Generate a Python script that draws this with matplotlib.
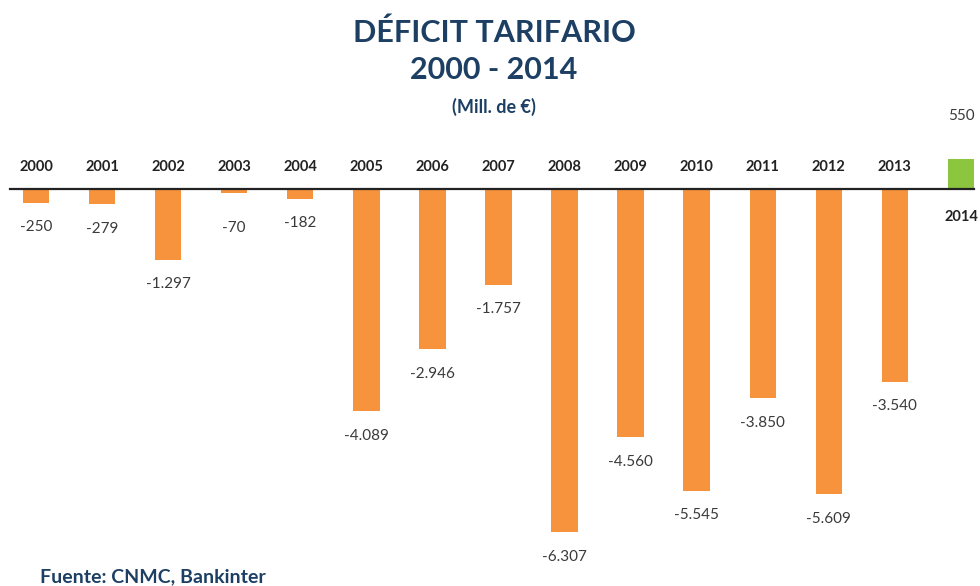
import matplotlib.pyplot as plt

# Tariff deficit by year (millions of euros)
years = ['2000', '2001', '2002', '2003', '2004', '2005', '2006', '2007',
         '2008', '2009', '2010', '2011', '2012', '2013', '2014']
deficit = [-250, -279, -1297, -70, -182, -4089, -2946, -1757,
           -6307, -4560, -5545, -3850, -5609, -3540, 550]
labels = ['-250', '-279', '-1.297', '-70', '-182', '-4.089', '-2.946', '-1.757',
          '-6.307', '-4.560', '-5.545', '-3.850', '-5.609', '-3.540', '550']

orange = '#F7933C'
green = '#8CC63F'
navy = '#1C3F63'

plt.rcParams['font.family'] = ['Lato', 'DejaVu Sans']

fig = plt.figure(figsize=(9.8, 5.86), dpi=100)
ax = fig.add_axes([0, 0, 1, 1])
ax.set_xlim(-0.545, 14.288)
ax.set_ylim(-7297, 3474)
ax.axis('off')

x = list(range(len(years)))
colors = [green if v > 0 else orange for v in deficit]
ax.bar(x, deficit, width=0.4, color=colors, zorder=2)

# baseline
ax.plot([-0.4, 14.2], [0, 0], color='#222222', lw=1.6, zorder=3)

for i, (yr, v, lab) in enumerate(zip(years, deficit, labels)):
    if v > 0:
        ax.text(i, -520, yr, ha='center', va='center', fontsize=10.5,
                fontweight='bold', color='#222222')
        ax.text(i, v + 800, lab, ha='center', va='center', fontsize=11,
                color='#3a3a3a')
    else:
        ax.text(i, 400, yr, ha='center', va='center', fontsize=10.5,
                fontweight='bold', color='#222222')
        off = 650 if v > -150 else 450
        ax.text(i, v - off, lab, ha='center', va='center', fontsize=11,
                color='#3a3a3a')

cx = 494 / 980
fig.text(cx, 1 - 33 / 586, 'DÉFICIT TARIFARIO', ha='center', va='center',
         fontsize=22, fontweight='bold', color=navy)
fig.text(cx, 1 - 70 / 586, '2000 - 2014', ha='center', va='center',
         fontsize=22, fontweight='bold', color=navy)
fig.text(cx, 1 - 107 / 586, '(Mill. de €)', ha='center', va='center',
         fontsize=13, fontweight='bold', color=navy)
fig.text(40 / 980, 1 - 577 / 586, 'Fuente: CNMC, Bankinter', ha='left',
         va='center', fontsize=14, fontweight='bold', color=navy)

fig.savefig('out.png', dpi=100, facecolor='white')
